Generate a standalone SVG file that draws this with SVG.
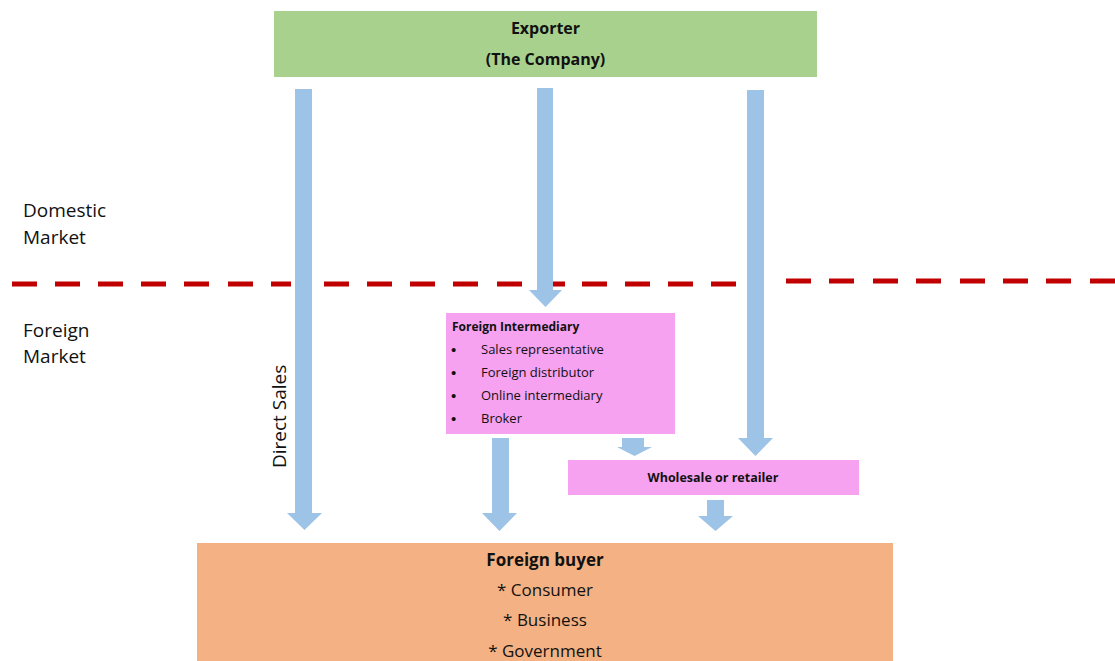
<svg xmlns="http://www.w3.org/2000/svg" width="1115" height="661" viewBox="0 0 1115 661">
<style>
.t{font-family:"Open Sans","Noto Sans","Liberation Sans",sans-serif;fill:#111}
.b{font-weight:bold}
.arr{fill:#9DC3E6}
.dash{stroke:#C00000;stroke-width:5;fill:none}
.pink{fill:#F6A2F0}
.bul{font-family:"Liberation Sans",sans-serif;font-size:15px;fill:#111}
</style>
<rect width="1115" height="661" fill="#fff"/>
<g id="divider">
<path class="dash" d="M12,284h25M55,284h25M98,284h25M141,284h25M184,284h25M228,284h25M271,284h20M324,284h25M367,284h25M410,284h25M453,284h25M497,284h25M540,284h25M582,284h25M625,284h25M668,284h25M711,284h25"/>
<path class="dash" d="M786,281h25M829,281h25M873,281h25M916,281h25M960,281h25M1003,281h25M1046,281h25M1090,281h25"/>
</g>
<g id="labels">
<text class="t" x="23" y="217" font-size="19">Domestic</text>
<text class="t" x="23" y="244" font-size="19">Market</text>
<text class="t" x="23" y="337" font-size="19">Foreign</text>
<text class="t" x="23" y="363" font-size="19">Market</text>
<text class="t" font-size="19" transform="translate(286,468) rotate(-90)">Direct Sales</text>
</g>
<g id="connectors">
<path class="arr" d="M295,89H312V513H322L304.5,530L287,513H295Z"/>
<path class="arr" d="M537,88H553V290H562L545.5,307L529,290H537Z"/>
<path class="arr" d="M747,90H764V438H773L755.5,456L738,438H747Z"/>
<path class="arr" d="M492,438H509V513H517L499.5,531L482,513H492Z"/>
<path class="arr" d="M622,438H644V447H652L634.5,456L617,447H622Z"/>
<path class="arr" d="M707,500H724V516H733L715.5,531L698,516H707Z"/>
</g>
<g id="exporter">
<rect x="274" y="11" width="543" height="66" fill="#A9D18E"/>
<text class="t b" x="545.5" y="34" font-size="16" text-anchor="middle">Exporter</text>
<text class="t b" x="545.5" y="65" font-size="16" text-anchor="middle">(The Company)</text>
</g>
<g id="foreign-intermediary">
<rect class="pink" x="446" y="313" width="229" height="121"/>
<text class="t b" x="452" y="331" font-size="12">Foreign Intermediary</text>
<g class="t" font-size="13">
<text class="bul" x="451" y="355">•</text><text x="481" y="354">Sales representative</text>
<text class="bul" x="451" y="378">•</text><text x="481" y="377">Foreign distributor</text>
<text class="bul" x="451" y="401">•</text><text x="481" y="400">Online intermediary</text>
<text class="bul" x="451" y="424">•</text><text x="481" y="423">Broker</text>
</g>
</g>
<g id="wholesale">
<rect class="pink" x="568" y="460" width="291" height="35"/>
<text class="t b" x="713" y="482" font-size="12.5" text-anchor="middle">Wholesale or retailer</text>
</g>
<g id="foreign-buyer">
<rect x="197" y="543" width="696" height="118" fill="#F4B183"/>
<text class="t b" x="545" y="566" font-size="17" text-anchor="middle">Foreign buyer</text>
<text class="t" x="545" y="596" font-size="17" text-anchor="middle">* Consumer</text>
<text class="t" x="545" y="626" font-size="17" text-anchor="middle">* Business</text>
<text class="t" x="545" y="657" font-size="17" text-anchor="middle">* Government</text>
</g>
</svg>
